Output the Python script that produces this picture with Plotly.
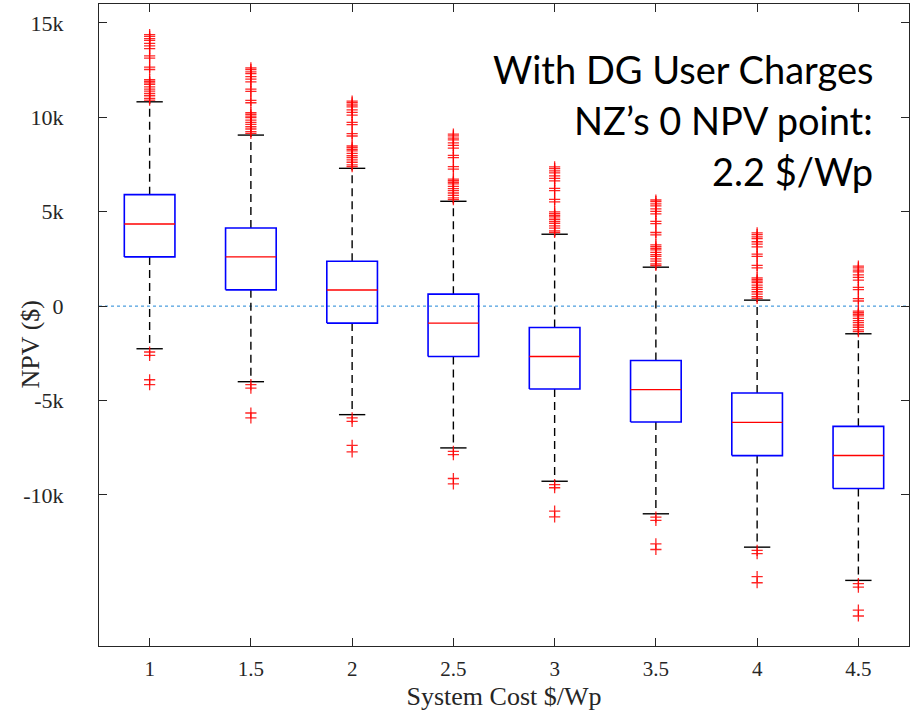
import plotly.graph_objects as go

# ---------------- data ----------------
cost_labels = ["1", "1.5", "2", "2.5", "3", "3.5", "4", "4.5"]

q1_vals = [2607, 862, -899, -2665, -4389, -6134, -7916, -9661]
median_vals = [4350, 2610, 850, -900, -2665, -4425, -6155, -7915]
q3_vals = [5902, 4140, 2380, 634, -1132, -2877, -4601, -6367]
upper_whisker = [10820, 9058, 7297, 5552, 3807, 2062, 317, -1465]
lower_whisker = [-2258, -4003, -5748, -7509, -9275, -10999, -12765, -14526]

out_hi_1 = [14380, 14290, 14170, 14070, 13910, 13780, 13640, 13250, 13130, 12660, 12530,
            12000, 11910, 11820, 11740, 11610, 11490, 11390, 11260, 11140, 11000, 10910]
out_hi_2 = [12620, 12530, 12410, 12310, 12150, 12020, 11880, 11490, 11370, 10900, 10770,
            10240, 10150, 10060, 9980, 9850, 9730, 9630, 9500, 9380, 9240, 9150]
out_hi_3 = [10860, 10770, 10650, 10550, 10390, 10260, 10120, 9730, 9610, 9140, 9010,
            8480, 8390, 8300, 8220, 8090, 7970, 7870, 7740, 7620, 7480, 7390]
out_hi_4 = [9110, 9020, 8900, 8800, 8640, 8510, 8370, 7980, 7860, 7390, 7260,
            6730, 6640, 6550, 6470, 6340, 6220, 6120, 5990, 5870, 5730, 5640]
out_hi_5 = [7370, 7280, 7160, 7060, 6900, 6770, 6630, 6240, 6120, 5650, 5520,
            4990, 4900, 4810, 4730, 4600, 4480, 4380, 4250, 4130, 3990, 3900]
out_hi_6 = [5620, 5530, 5410, 5310, 5150, 5020, 4880, 4490, 4370, 3900, 3770,
            3240, 3150, 3060, 2980, 2850, 2730, 2630, 2500, 2380, 2240, 2150]
out_hi_7 = [3880, 3790, 3670, 3570, 3410, 3280, 3140, 2750, 2630, 2160, 2030,
            1500, 1410, 1320, 1240, 1110, 990, 890, 760, 640, 500, 410]
out_hi_8 = [2120, 2030, 1910, 1810, 1650, 1520, 1380, 990, 870, 400, 270,
            -260, -350, -440, -520, -650, -770, -870, -1000, -1120, -1260, -1350]

out_lo_1 = [-2430, -2610, -3900, -4160]
out_lo_2 = [-4160, -4340, -5660, -5920]
out_lo_3 = [-5920, -6100, -7370, -7720]
out_lo_4 = [-7690, -7860, -9130, -9410]
out_lo_5 = [-9450, -9620, -10860, -11160]
out_lo_6 = [-11180, -11350, -12590, -12890]
out_lo_7 = [-12940, -13110, -14330, -14650]
out_lo_8 = [-14700, -14880, -16100, -16410]

upper_outliers = [out_hi_1, out_hi_2, out_hi_3, out_hi_4, out_hi_5, out_hi_6, out_hi_7, out_hi_8]
lower_outliers = [out_lo_1, out_lo_2, out_lo_3, out_lo_4, out_lo_5, out_lo_6, out_lo_7, out_lo_8]

y_tick_vals = [-10000, -5000, 0, 5000, 10000, 15000]
y_tick_text = ["-10k", "-5k", "0", "5k", "10k", "15k"]

x_title = "System Cost $/Wp"
y_title = "NPV ($)"
annotation_lines = ["With DG User Charges", "NZ\u2019s 0 NPV point:", "2.2 $/Wp"]

# ---------------- styles ----------------
BOX_HW = 0.25
CAP_HW = 0.13
AXIS_COLOR = "#262626"
SERIF = "Liberation Serif, Times New Roman, serif"
NOTE_TOPS = [0.9377, 0.859, 0.7788]   # paper-y of each annotation line's top

positions = list(range(1, len(cost_labels) + 1))

fig = go.Figure()

# zero reference line
fig.add_shape(type="line", xref="paper", x0=0, x1=1, yref="y", y0=0, y1=0,
              line=dict(color="#1f86d6", width=1, dash="dot"), layer="below")

# whiskers (dashed)
wx, wy = [], []
for p, lo, a, b, hi in zip(positions, lower_whisker, q1_vals, q3_vals, upper_whisker):
    wx += [p, p, None, p, p, None]
    wy += [b, hi, None, a, lo, None]
fig.add_trace(go.Scatter(x=wx, y=wy, mode="lines", hoverinfo="skip", showlegend=False,
                         line=dict(color="black", width=1.4, dash="8px,5px")))

# whisker caps
cx, cy = [], []
for p, lo, hi in zip(positions, lower_whisker, upper_whisker):
    cx += [p - CAP_HW, p + CAP_HW, None, p - CAP_HW, p + CAP_HW, None]
    cy += [hi, hi, None, lo, lo, None]
fig.add_trace(go.Scatter(x=cx, y=cy, mode="lines", hoverinfo="skip", showlegend=False,
                         line=dict(color="black", width=1.4)))

# outliers
ox, oy = [], []
for p, ups, lows in zip(positions, upper_outliers, lower_outliers):
    for v in ups + lows:
        ox.append(p)
        oy.append(v)
fig.add_trace(go.Scatter(x=ox, y=oy, mode="markers", showlegend=False,
                         marker=dict(symbol="cross-thin", size=8, color="red",
                                     line=dict(color="rgba(255,0,0,0.85)", width=1.3))))

# boxes
bx, by = [], []
for p, a, b in zip(positions, q1_vals, q3_vals):
    bx += [p - BOX_HW, p + BOX_HW, p + BOX_HW, p - BOX_HW, p - BOX_HW, None]
    by += [a, a, b, b, a, None]
fig.add_trace(go.Scatter(x=bx, y=by, mode="lines", hoverinfo="skip", showlegend=False,
                         line=dict(color="#0000ff", width=1.6)))

# medians
mx, my = [], []
for p, m in zip(positions, median_vals):
    mx += [p - BOX_HW, p + BOX_HW, None]
    my += [m, m, None]
fig.add_trace(go.Scatter(x=mx, y=my, mode="lines", hoverinfo="skip", showlegend=False,
                         line=dict(color="#ff0000", width=1.4)))

for line_text, top in zip(annotation_lines, NOTE_TOPS):
    fig.add_annotation(xref="paper", yref="paper", x=0.958, y=top,
                       xanchor="right", yanchor="top", align="right", showarrow=False,
                       text=line_text,
                       font=dict(family="Lato, Open Sans, sans-serif", size=38, color="black"))

# y-axis title placed as rotated text
fig.add_annotation(xref="paper", yref="paper", x=-0.085, y=0.47,
                   xanchor="center", yanchor="middle", showarrow=False, textangle=-90,
                   text=y_title, font=dict(family=SERIF, size=26, color=AXIS_COLOR))

fig.update_layout(
    width=914, height=716,
    margin=dict(l=99, r=5, t=4, b=70),
    paper_bgcolor="white", plot_bgcolor="white",
    showlegend=False,
    xaxis=dict(range=[0.5, 8.5], tickmode="array", tickvals=positions, ticktext=cost_labels,
               ticks="inside", ticklen=8, tickcolor=AXIS_COLOR, showline=True, mirror="ticks",
               linecolor=AXIS_COLOR, linewidth=1, showgrid=False, zeroline=False,
               ticklabelstandoff=4,
               tickfont=dict(family=SERIF, size=21, color=AXIS_COLOR),
               title=dict(text=x_title, standoff=6,
                          font=dict(family=SERIF, size=26, color=AXIS_COLOR))),
    yaxis=dict(range=[-18000, 16000], tickmode="array", tickvals=y_tick_vals, ticktext=y_tick_text,
               ticks="inside", ticklen=8, tickcolor=AXIS_COLOR, showline=True, mirror="ticks",
               linecolor=AXIS_COLOR, linewidth=1, showgrid=False, zeroline=False,
               ticklabelstandoff=30,
               tickfont=dict(family=SERIF, size=22, color=AXIS_COLOR)),
)

fig.write_html("out.html")
